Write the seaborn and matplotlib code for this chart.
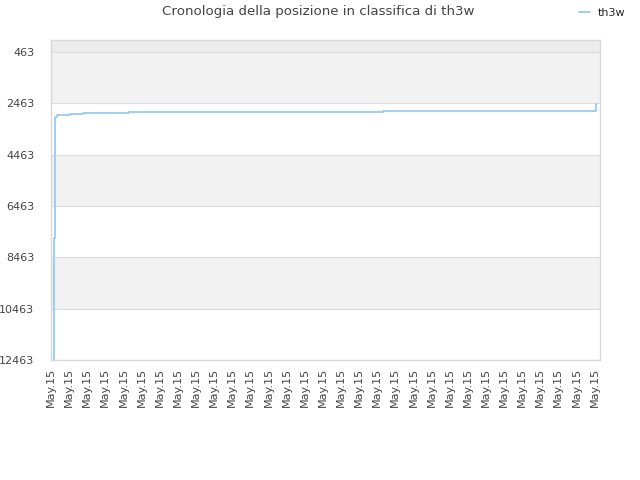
import matplotlib
matplotlib.use('Agg')
import matplotlib.pyplot as plt
import seaborn as sns
import pandas as pd

# sample positions (in tick units) and classification rank
positions = [0.17, 0.19, 0.22, 0.33, 1.05, 1.77, 4.3, 18.3, 29.84, 30.06]
ranks = [12463, 7710, 2995, 2917, 2878, 2840, 2800, 2762, 2762, 2489]
player = 'th3w'

y_ticks = [463, 2463, 4463, 6463, 8463, 10463, 12463]
x_labels = ['May.15'] * 31

df = pd.DataFrame({'pos': positions, 'rank': ranks})

sns.set_style('white')
fig = plt.figure(figsize=(6.4, 4.8), dpi=100)
ax = fig.add_axes([0.0797, 0.25, 0.8578, 0.6667])

top = -4
# alternating bands
ax.axhspan(top, 463, color='#ececec', zorder=0, lw=0)
for i in range(len(y_ticks) - 1):
    col = '#f2f2f2' if i % 2 == 0 else 'white'
    ax.axhspan(y_ticks[i], y_ticks[i + 1], color=col, zorder=0, lw=0)
for v in y_ticks:
    ax.axhline(v, color='#dcdcdc', lw=0.8, zorder=1)

sns.lineplot(data=df, x='pos', y='rank', ax=ax, color='#99c9f5', lw=1.3,
             drawstyle='steps-post', label=player, zorder=3)

ax.set_ylim(12463, top)
ax.set_xlim(0, 30.3)
ax.set_yticks(y_ticks)
ax.set_yticklabels([str(v) for v in y_ticks], fontsize=8, color='#444444')
ax.set_xticks(range(len(x_labels)))
ax.set_xticklabels(x_labels, rotation=90, fontsize=8, color='#444444')
ax.tick_params(axis='y', length=0, pad=12)
ax.tick_params(axis='x', length=0, pad=6)
ax.set_xlabel('')
ax.set_ylabel('')
for s in ax.spines.values():
    s.set_color('#d8d8d8')
    s.set_linewidth(1)

fig.text(0.497, 0.975, 'Cronologia della posizione in classifica di ' + player,
         ha='center', va='center', fontsize=9.6, color='#444444')
ax.legend(loc='upper right', bbox_to_anchor=(1.065, 1.13), frameon=False,
          fontsize=8, handlelength=1.0, handletextpad=0.7)

fig.savefig('out.png', dpi=100)
